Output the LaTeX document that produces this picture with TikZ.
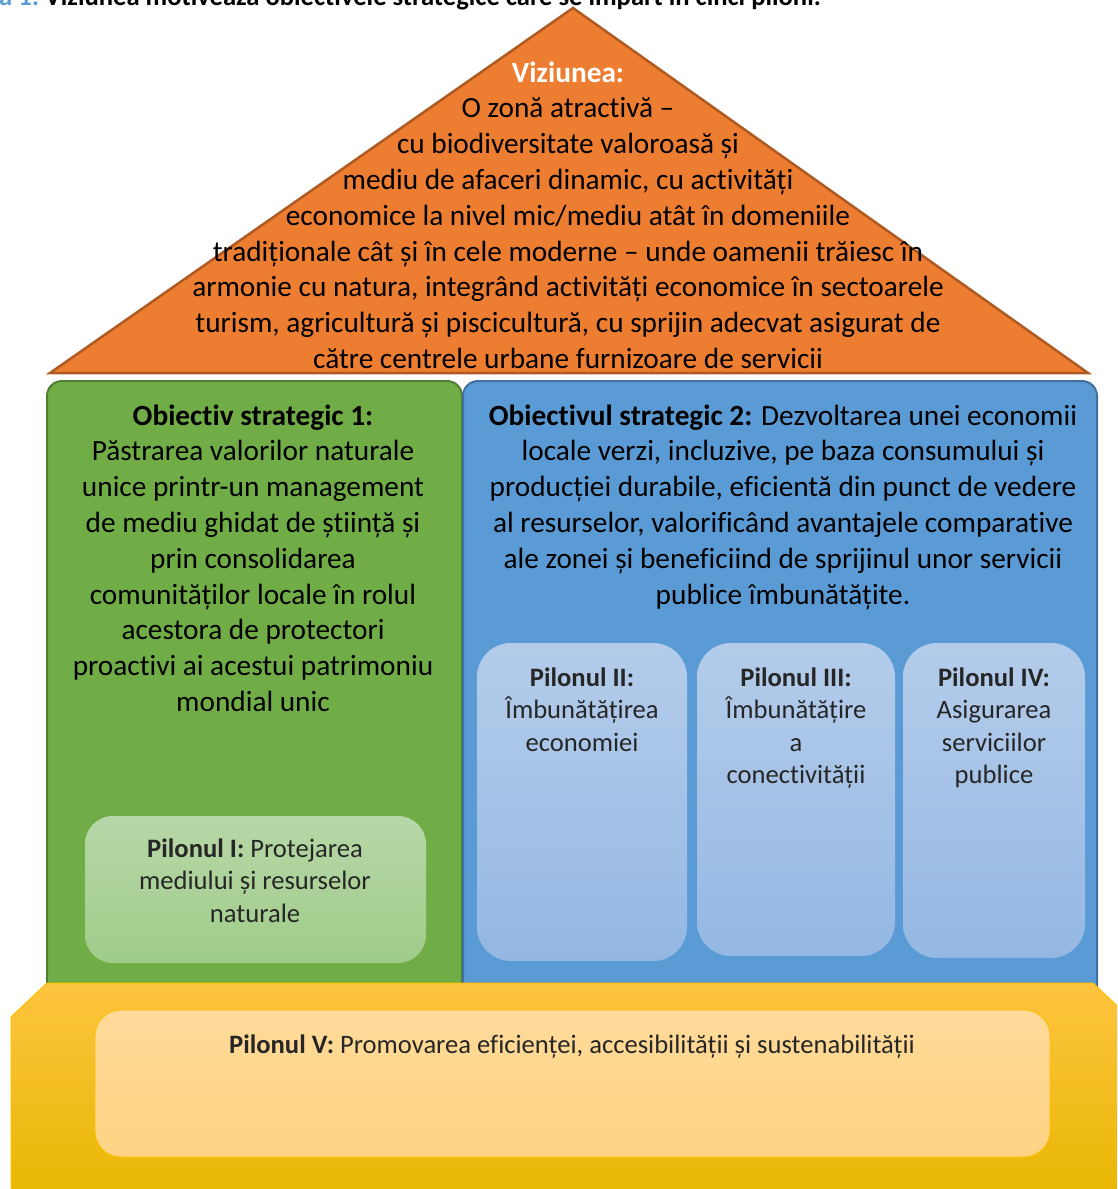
\documentclass[tikz,border=0pt]{standalone}
\usepackage{fontspec}
\setmainfont{Carlito}[Ligatures=NoCommon]
\definecolor{roofF}{HTML}{ED7D31}
\definecolor{roofD}{HTML}{AE5A21}
\definecolor{grnF}{HTML}{70AD47}
\definecolor{grnD}{HTML}{507E32}
\definecolor{bluF}{HTML}{5B9BD5}
\definecolor{bluD}{HTML}{41719C}
\definecolor{pbT}{HTML}{B4CCEA}
\definecolor{pbB}{HTML}{94B8E3}
\definecolor{pgT}{HTML}{B6D7A7}
\definecolor{pgB}{HTML}{A0CC8A}
\definecolor{yT}{HTML}{FEC440}
\definecolor{yM}{HTML}{FFC000}
\definecolor{yB}{HTML}{E8B700}
\definecolor{yiT}{HTML}{FFDA99}
\definecolor{yiB}{HTML}{FED384}
\definecolor{capblue}{HTML}{5B9BD5}
\definecolor{ptext}{HTML}{262626}
\tikzset{
  bigtext/.style={align=center, inner sep=0pt, anchor=base, font={\fontsize{29.3}{35.8}\selectfont}},
  piltext/.style={align=center, inner sep=0pt, anchor=base, text=ptext, font={\fontsize{26.6}{32.5}\selectfont}},
  pilblue/.style={top color=pbT, bottom color=pbB, rounded corners=34pt},
  captext/.style={inner sep=0pt, anchor=base west, font={\fontsize{26.6}{32}\selectfont\bfseries}},
}
\begin{document}
\begin{tikzpicture}[x=1pt,y=-1pt]
\useasboundingbox (0,0) rectangle (1117,1189);
\clip (0,0) rectangle (1117,1189);
% caption
\node[captext, text=capblue] (capA) at (-1,5) {a 1:};
\node[captext] (capB) at (45,5) {Viziunea motivează obiectivele strategice care se împart în cinci piloni.};
% roof
\draw[fill=roofF, draw=roofD, line width=2.5pt, line join=miter] (50,373) -- (573,8) -- (1088,373) -- cycle;
\node[bigtext] (vision) at (568,368.4) {\textcolor{white}{\textbf{Viziunea:}}\\
O zonă atractivă –\\
cu biodiversitate valoroasă și\\
mediu de afaceri dinamic, cu activități\\
economice la nivel mic/mediu atât în domeniile\\
tradiționale cât și în cele moderne – unde oamenii trăiesc în\\
armonie cu natura, integrând activități economice în sectoarele\\
turism, agricultură și piscicultură, cu sprijin adecvat asigurat de\\
către centrele urbane furnizoare de servicii};
% objective boxes
\draw[fill=grnF, draw=grnD, line width=2pt, rounded corners=15pt] (47,381) rectangle (462,1010);
\draw[fill=bluF, draw=bluD, line width=2pt, rounded corners=15pt] (463,381) rectangle (1097,1010);
\node[bigtext] (obj1) at (253,711.4) {\textbf{Obiectiv strategic 1:}\\
Păstrarea valorilor naturale\\
unice printr-un management\\
de mediu ghidat de știință și\\
prin consolidarea\\
comunităților locale în rolul\\
acestora de protectori\\
proactivi ai acestui patrimoniu\\
mondial unic};
\node[bigtext] (obj2) at (783,604) {\textbf{Obiectivul strategic 2:} Dezvoltarea unei economii\\
locale verzi, incluzive, pe baza consumului și\\
producției durabile, eficientă din punct de vedere\\
al resurselor, valorificând avantajele comparative\\
ale zonei și beneficiind de sprijinul unor servicii\\
publice îmbunătățite.};
% pillars
\shade[top color=pgT, bottom color=pgB, rounded corners=28pt] (85,816) rectangle (426,963);
\node[piltext] (p1) at (255,922) {\textbf{Pilonul I:} Protejarea\\ mediului și resurselor\\ naturale};
\shade[pilblue] (477,643) rectangle (687,961);
\shade[pilblue] (697,643) rectangle (895,956);
\shade[pilblue] (903,643) rectangle (1085,958);
\node[piltext] (p2) at (582,751) {\textbf{Pilonul II:}\\ Îmbunătățirea\\ economiei};
\node[piltext] (p3) at (796,783.5) {\textbf{Pilonul III:}\\ Îmbunătățire\\ a\\ conectivității};
\node[piltext] (p4) at (994,783.5) {\textbf{Pilonul IV:}\\ Asigurarea\\ serviciilor\\ publice};
% base
\shade[top color=yT, middle color=yM, bottom color=yB, draw=yM, line width=1pt] (47,983) -- (1093,983) -- (1129,1017) -- (1129,1200) -- (11,1200) -- (11,1017) -- cycle;
\shade[top color=yiT, bottom color=yiB, draw=yM, line width=0.8pt, rounded corners=26pt] (95,1010) rectangle (1050,1157);
\node[piltext] (p5) at (572,1053) {\textbf{Pilonul V:} Promovarea eficienței, accesibilității și sustenabilității};
\end{tikzpicture}
\end{document}
